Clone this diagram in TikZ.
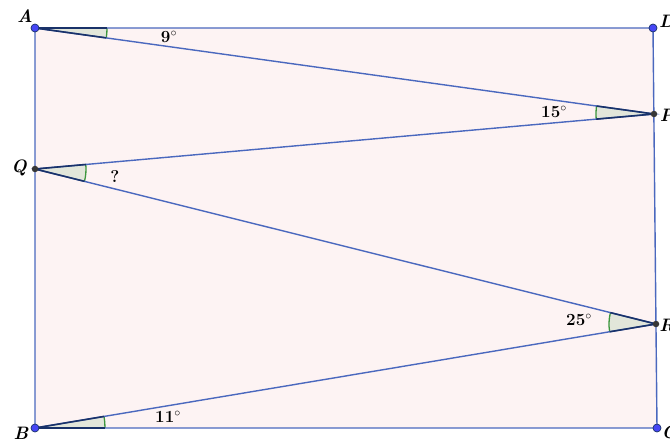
\documentclass[tikz,border=0pt]{standalone}
\usetikzlibrary{calc,angles}
\definecolor{lineblue}{RGB}{74,104,190}
\definecolor{rectfill}{RGB}{253,243,243}
\definecolor{wedgefill}{RGB}{226,230,218}
\definecolor{arcgreen}{RGB}{60,150,60}
\definecolor{edgedark}{RGB}{25,50,105}
\definecolor{ptblue}{RGB}{70,70,245}
\definecolor{ptgray}{RGB}{55,55,55}
\tikzset{
  seg/.style={draw=lineblue, line width=1.4pt},
  wedge/.style={fill=wedgefill, draw=arcgreen, line width=1.3pt},
  darkedge/.style={draw=edgedark, line width=1.6pt},
  bluept/.style={circle, fill=ptblue, draw=edgedark, line width=0.7pt, inner sep=0pt, minimum size=8pt},
  graypt/.style={circle, fill=ptgray, inner sep=0pt, minimum size=6.5pt},
  ptlabel/.style={font=\fontsize{18}{20}\selectfont\bfseries\itshape, inner sep=0pt},
  anglabel/.style={font=\fontsize{17}{19}\selectfont\bfseries, inner sep=0pt}
}
\begin{document}
\begin{tikzpicture}[x=1pt,y=-1pt]
\useasboundingbox (0,0) rectangle (670,441);
\coordinate (A) at (35,28);
\coordinate (D) at (653,28);
\coordinate (P) at (654,114);
\coordinate (Q) at (35,169);
\coordinate (R) at (656,324);
\coordinate (B) at (35,428);
\coordinate (C) at (657,428);
% rectangle
\fill[rectfill] (A) -- (D) -- (C) -- (B) -- cycle;
% wedges
\pic[wedge, angle radius=72pt] {angle = P--A--D};
\pic[wedge, angle radius=58pt] {angle = A--P--Q};
\pic[wedge, angle radius=51pt] {angle = R--Q--P};
\pic[wedge, angle radius=47pt] {angle = Q--R--B};
\pic[wedge, angle radius=70pt] {angle = C--B--R};
% sides
\draw[seg] (A) -- (D) -- (C) -- (B) -- cycle;
\draw[seg] (A) -- (P) -- (Q) -- (R) -- (B);
% dark edges of wedges
\draw[darkedge] (A) -- ($(A)!72pt!(D)$);
\draw[darkedge] (A) -- ($(A)!72pt!(P)$);
\draw[darkedge] (P) -- ($(P)!58pt!(A)$);
\draw[darkedge] (P) -- ($(P)!58pt!(Q)$);
\draw[darkedge] (Q) -- ($(Q)!51pt!(P)$);
\draw[darkedge] (Q) -- ($(Q)!51pt!(R)$);
\draw[darkedge] (R) -- ($(R)!47pt!(Q)$);
\draw[darkedge] (R) -- ($(R)!47pt!(B)$);
\draw[darkedge] (B) -- ($(B)!70pt!(C)$);
\draw[darkedge] (B) -- ($(B)!70pt!(R)$);
% points
\node[bluept] (nA) at (A) {};
\node[bluept] (nD) at (D) {};
\node[bluept] (nB) at (B) {};
\node[bluept] (nC) at (C) {};
\node[graypt] (nP) at (P) {};
\node[graypt] (nQ) at (Q) {};
\node[graypt] (nR) at (R) {};
% point labels
\node[ptlabel] (lA) at (25,16) {A};
\node[ptlabel] (lD) at (667,21) {D};
\node[ptlabel] (lP) at (667,115) {P};
\node[ptlabel] (lQ) at (19,168) {Q};
\node[ptlabel] (lR) at (667,325) {R};
\node[ptlabel] (lB) at (21,433) {B};
\node[ptlabel] (lC) at (669,432) {C};
% angle labels
\node[anglabel] (a9) at (169,37) {9$^{\circ}$};
\node[anglabel] (a15) at (554,112) {15$^{\circ}$};
\node[anglabel] (aq) at (115,177) {?};
\node[anglabel] (a25) at (579,320) {25$^{\circ}$};
\node[anglabel] (a11) at (168,417) {11$^{\circ}$};
\end{tikzpicture}
\end{document}
